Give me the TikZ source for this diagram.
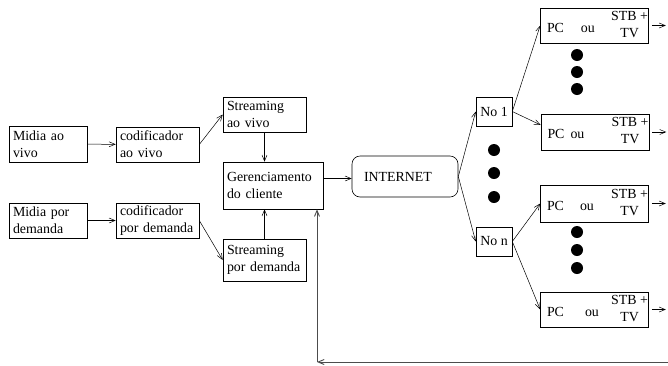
\documentclass[tikz,border=0pt]{standalone}
\usepackage{fontspec}
\setmainfont{Liberation Serif}
\usetikzlibrary{arrows.meta,positioning}

% PC ou STB+TV, #1 = gap between PC and ou
\newcommand{\pctv}[1]{\hspace*{6pt}\makebox[101pt][l]{\raisebox{-3pt}{PC\hspace{#1}ou}\hfill\begin{tabular}{@{}c@{}}STB +\\TV\end{tabular}}}

\begin{document}
\begin{tikzpicture}[x=1pt, y=-1pt,
        font=\fontsize{13.9}{17}\selectfont,
        caixa/.style={rectangle, draw, line width=0.6pt, align=left, inner xsep=4pt, inner ysep=0pt, minimum height=35pt, text width=#1},
        caixa/.default=75pt,
        nodo/.style={rectangle, draw, line width=0.6pt, inner sep=0pt, minimum width=36pt, minimum height=29pt},
        pcbox/.style={rectangle, draw, line width=0.6pt, inner sep=0pt, minimum width=108pt, minimum height=36pt},
        seta/.style={-{Straight Barb[length=6pt,width=5pt]}, line width=0.5pt}
      ]
        \useasboundingbox (0,0) rectangle (668,365);

        % entrada
        \node (mao) [caixa=70pt, minimum height=36pt] at (48,144) {Midia ao\\vivo};
        \node (cav) [caixa] at (157.5,144.5) {codificador\\ao vivo};
        \node (sav) [caixa] at (264.5,114.5) {Streaming\\ao vivo};
        \node (ger) [caixa=92pt, minimum height=47pt] at (273,185.5) {Gerenciamento\\do cliente};
        \node (mpd) [caixa=70pt] at (48,220.5) {Midia por\\demanda};
        \node (cpd) [caixa] at (157.5,220.5) {codificador\\por demanda};
        \node (spd) [caixa, minimum height=42pt] at (264.5,260) {Streaming\\por demanda};

        \node (net) [rectangle, rounded corners=8pt, draw, line width=0.6pt, align=left, text width=82pt, inner xsep=12pt, minimum height=41pt] at (405,176.5) {INTERNET};

        \node (no1) [nodo] at (494,111.5) {No 1};
        \node (non) [nodo] at (494,241.5) {No n};

        \node (pc1) [pcbox, minimum height=35pt] at (594.5,25.5) {\pctv{17pt}};
        \node (pc2) [pcbox] at (595,132) {\pctv{6pt}};
        \node (pc3) [pcbox, minimum height=37pt] at (594.5,203.5) {\pctv{16pt}};
        \node (pc4) [pcbox, minimum height=35pt] at (594.5,309.5) {\pctv{21pt}};

        \foreach \y in {150,173,197} \fill (494,\y) circle (6pt);
        \foreach \y in {55,72,89} \fill (577,\y) circle (6pt);
        \foreach \y in {232,250,268} \fill (577,\y) circle (6pt);

        \draw[seta] (mao) -- (cav);
        \draw[seta] (cav.east) -- (sav.west);
        \draw[seta] (sav.south) -- (sav.south |- ger.north);
        \draw[seta] (mpd) -- (cpd);
        \draw[seta] (cpd.east) -- (spd.west);
        \draw[seta] (spd.north) -- (spd.north |- ger.south);
        \draw[seta] ([yshift=-2pt]net.west -| ger.east) -- ([yshift=-2pt]net.west);

        \draw[seta] (net.east) -- (no1.west);
        \draw[seta] (net.east) -- (non.west);
        \draw[seta] (no1.east) -- (pc1.west);
        \draw[seta] (no1.east) -- ([yshift=7pt]pc2.west);
        \draw[seta] (non.east) -- (pc3.west);
        \draw[seta] (non.east) -- (pc4.west);

        \foreach \i in {1,...,4} {
            \coordinate (out\i) at ([xshift=17pt]pc\i.east);
            \draw[seta] ([xshift=3pt]pc\i.east) -- (out\i);
        }

        % retorno
        \coordinate (fbr) at (668,362);
        \coordinate (fbl) at (317,362);
        \draw[seta, line width=0.9pt, draw=black!70] (fbr) -- (fbl);
        \draw[seta, line width=0.9pt, draw=black!70] (fbl) -- (fbl |- ger.south);
      \end{tikzpicture}
\end{document}
